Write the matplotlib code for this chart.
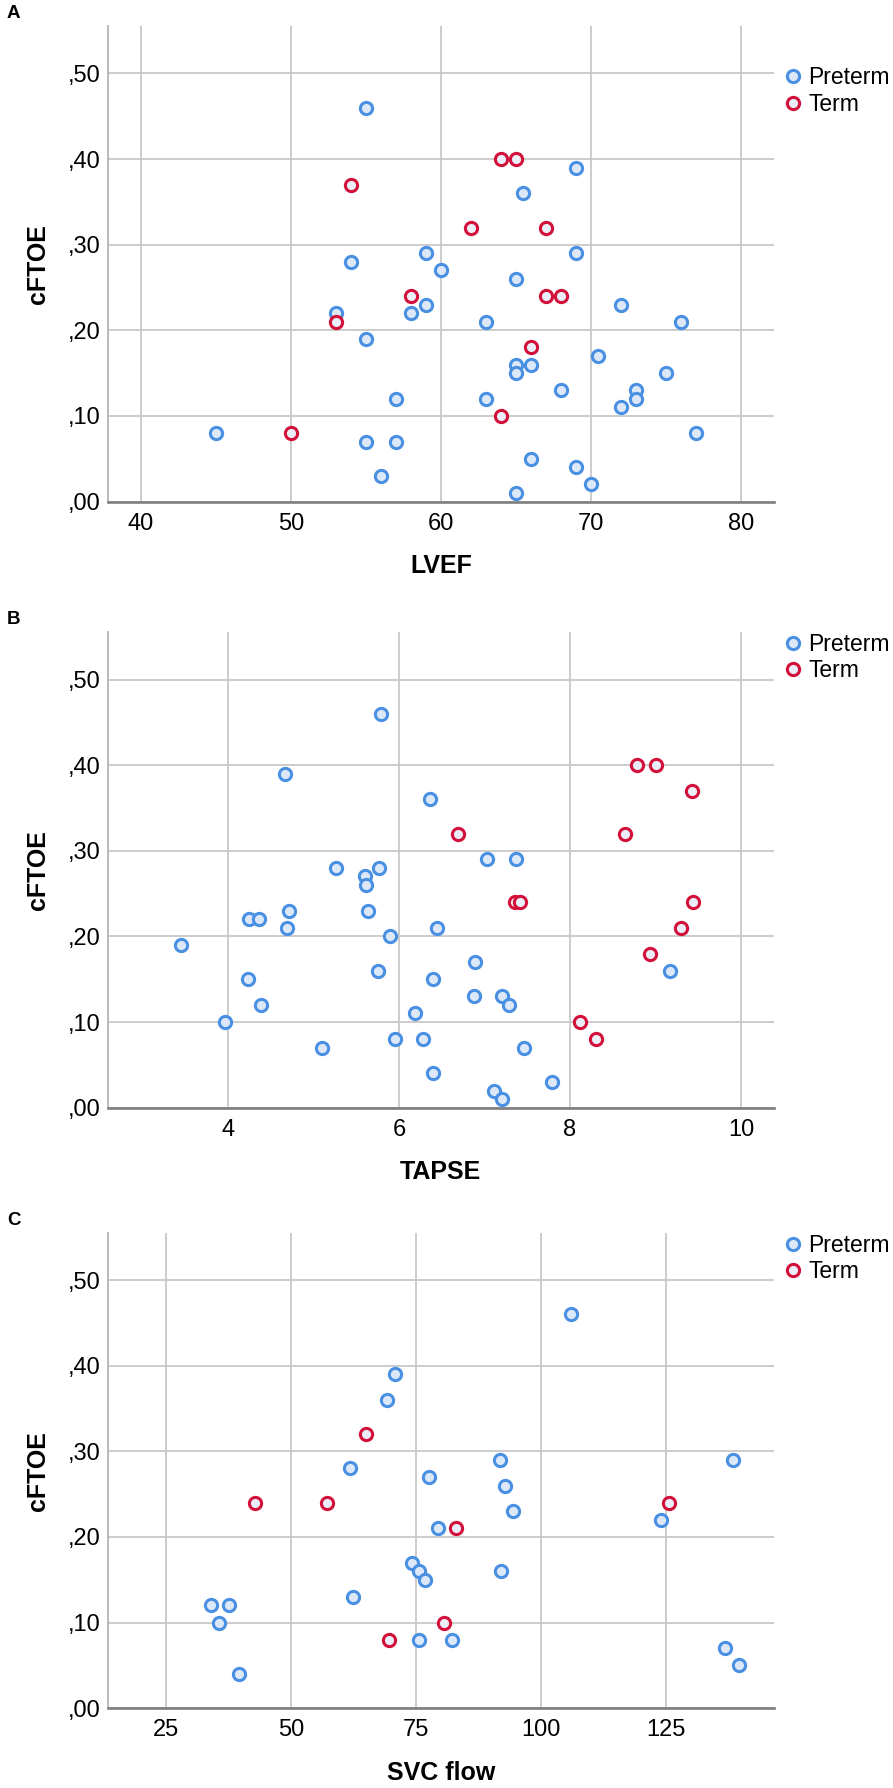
import matplotlib
matplotlib.use('Agg')
import matplotlib.pyplot as plt
from matplotlib.ticker import FuncFormatter

plt.rcParams['font.family'] = ['Liberation Sans', 'DejaVu Sans']

# panel A - LVEF
lvef_pre = [55, 69, 65.5, 54, 59, 60, 65, 69, 59, 72, 53, 58, 63, 76, 55, 70.5, 65, 66, 65, 75,
            68, 73, 73, 57, 63, 72, 45, 77, 55, 57, 66, 69, 56, 70, 65]
cftoe_a_pre = [0.46, 0.39, 0.36, 0.28, 0.29, 0.27, 0.26, 0.29, 0.23, 0.23, 0.22, 0.22, 0.21, 0.21,
               0.19, 0.17, 0.16, 0.16, 0.15, 0.15, 0.13, 0.13, 0.12, 0.12, 0.12, 0.11, 0.08, 0.08,
               0.07, 0.07, 0.05, 0.04, 0.03, 0.02, 0.01]
lvef_term = [64, 65, 54, 62, 67, 58, 67, 68, 53, 66, 64, 50]
cftoe_a_term = [0.40, 0.40, 0.37, 0.32, 0.32, 0.24, 0.24, 0.24, 0.21, 0.18, 0.10, 0.08]

# panel B - TAPSE
tapse_pre = [5.79, 4.67, 6.36, 7.03, 7.37, 5.27, 5.77, 5.6, 5.62, 5.64, 4.71, 4.25, 4.37, 4.69,
             6.44, 5.9, 3.45, 6.89, 5.76, 9.17, 4.24, 6.4, 6.88, 7.21, 7.29, 4.39, 6.19, 3.97,
             5.96, 6.28, 5.1, 7.46, 6.4, 7.79, 7.11, 7.21]
cftoe_b_pre = [0.46, 0.39, 0.36, 0.29, 0.29, 0.28, 0.28, 0.27, 0.26, 0.23, 0.23, 0.22, 0.22, 0.21,
               0.21, 0.20, 0.19, 0.17, 0.16, 0.16, 0.15, 0.15, 0.13, 0.13, 0.12, 0.12, 0.11, 0.10,
               0.08, 0.08, 0.07, 0.07, 0.04, 0.03, 0.02, 0.01]
tapse_term = [8.78, 9.0, 9.42, 6.69, 8.64, 7.36, 7.42, 9.44, 9.3, 8.93, 8.12, 8.3]
cftoe_b_term = [0.40, 0.40, 0.37, 0.32, 0.32, 0.24, 0.24, 0.24, 0.21, 0.18, 0.10, 0.08]

# panel C - SVC flow
svc_pre = [106.1, 70.8, 69.2, 91.7, 138.5, 61.7, 77.6, 92.8, 94.5, 124, 79.3, 74.2, 75.6, 91.9,
           76.8, 62.3, 34, 37.6, 35.5, 75.6, 82.1, 136.9, 139.6, 39.5]
cftoe_c_pre = [0.46, 0.39, 0.36, 0.29, 0.29, 0.28, 0.27, 0.26, 0.23, 0.22, 0.21, 0.17, 0.16, 0.16,
               0.15, 0.13, 0.12, 0.12, 0.10, 0.08, 0.08, 0.07, 0.05, 0.04]
svc_term = [64.9, 42.7, 57.2, 125.7, 82.9, 80.5, 69.5]
cftoe_c_term = [0.32, 0.24, 0.24, 0.24, 0.21, 0.10, 0.08]

y_ticks = [0, 0.1, 0.2, 0.3, 0.4, 0.5]
group_names = ['Preterm', 'Term']

blue = '#4a90e2'
red = '#d2103a'

fig = plt.figure(figsize=(8.93, 17.88), dpi=100)

panels = [
    ('A', 'LVEF', lvef_pre, cftoe_a_pre, lvef_term, cftoe_a_term, (37.8, 82.2), [40, 50, 60, 70, 80], 0.7195, 0.916),
    ('B', 'TAPSE', tapse_pre, cftoe_b_pre, tapse_term, cftoe_b_term, (2.6, 10.38), [4, 6, 8, 10], 0.3805, 0.999),
    ('C', 'SVC flow', svc_pre, cftoe_c_pre, svc_term, cftoe_c_term, (13.3, 146.6), [25, 50, 75, 100, 125], 0.0446, 0.998),
]

for letter, xname, xp, yp, xt, yt, xlim, xticks, bottom, leg_y in panels:
    ax = fig.add_axes([0.1209, bottom, 0.7455, 0.2658])
    ax.set_axisbelow(True)
    ax.grid(True, color='#c8c8c8', lw=1.3)
    ax.plot(xp, yp, 'o', ms=8.8, mew=2.2, mec=blue, mfc='#dce8f8', label=group_names[0], clip_on=False)
    ax.plot(xt, yt, 'o', ms=8.8, mew=2.2, mec=red, mfc='#ebeef8', label=group_names[1], clip_on=False)
    ax.set_xlim(xlim)
    ax.set_ylim(0, 0.555)
    ax.set_xticks(xticks)
    ax.set_yticks(y_ticks)
    ax.yaxis.set_major_formatter(FuncFormatter(lambda v, p: ('%.2f' % v)[1:].replace('.', ',')))
    ax.tick_params(length=0, labelsize=17)
    ax.tick_params(axis='x', pad=8)
    ax.tick_params(axis='y', pad=5)
    for s in ['top', 'right']:
        ax.spines[s].set_visible(False)
    ax.spines['left'].set_color('#b4b4b4')
    ax.spines['left'].set_linewidth(1.3)
    ax.spines['bottom'].set_color('#7f7f7f')
    ax.spines['bottom'].set_linewidth(1.9)
    ax.set_xlabel(xname, fontsize=18, fontweight='bold')
    ax.set_ylabel('cFTOE', fontsize=18, fontweight='bold')
    ax.xaxis.set_label_coords(0.5, -0.11)
    ax.yaxis.set_label_coords(-0.087, 0.5)
    ax.legend(loc='upper left', bbox_to_anchor=(1.012, leg_y), frameon=False, fontsize=16.5,
              handlelength=1.0, handletextpad=0.15, borderpad=0, borderaxespad=0, labelspacing=0.15)
    top_px = (1 - bottom - 0.2658) * 1788
    fig.text(7 / 893, 1 - (top_px - 21.5) / 1788, letter, fontsize=13.5, fontweight='bold', va='top')

fig.savefig('out.png', dpi=100)
